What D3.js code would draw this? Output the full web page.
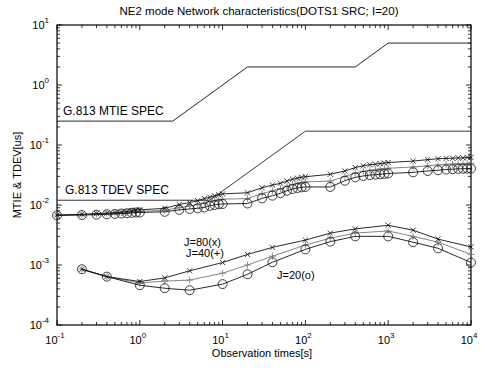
<!DOCTYPE html>
<html>
<head>
<meta charset="utf-8">
<script src="https://cdn.jsdelivr.net/npm/d3@7"></script>
<style>
  body { margin: 0; background: #fff; }
  text { font-family: "Liberation Sans", Arial, Helvetica, sans-serif; fill: #000; }
</style>
</head>
<body>
<svg id="chart" width="485" height="368"></svg>
<script>
// observation times for MTIE curves
var tauMtie = [0.1,0.2,0.3,0.4,0.5,0.6,0.7,0.8,0.9,
  1,2,3,4,5,6,7,8,9,
  10,20,30,40,50,60,70,80,90,
  100,200,300,400,500,600,700,800,900,
  1000,2000,3000,4000,5000,6000,7000,8000,9000,10000];

var mtieJ80 = [0.0068,0.0070,0.0072,0.0073,0.0075,0.0076,0.0078,0.0080,0.0082,
  0.0083,0.0088,0.0102,0.0110,0.0118,0.0128,0.0135,0.0142,0.0148,
  0.0153,0.0160,0.0194,0.0215,0.0230,0.0250,0.0270,0.0280,0.0290,
  0.0296,0.0325,0.0369,0.0420,0.0450,0.0470,0.0480,0.0490,0.0500,
  0.0510,0.0540,0.0570,0.0590,0.0600,0.0600,0.0610,0.0610,0.0620,0.0620];

var mtieJ40 = [0.0068,0.0069,0.0071,0.0072,0.0073,0.0074,0.0075,0.0076,0.0077,
  0.0078,0.0082,0.0090,0.0096,0.0102,0.0108,0.0114,0.0118,0.0122,
  0.0125,0.0128,0.0155,0.0172,0.0188,0.0205,0.0220,0.0230,0.0238,
  0.0243,0.0250,0.0300,0.0340,0.0365,0.0380,0.0390,0.0398,0.0405,
  0.0410,0.0430,0.0450,0.0465,0.0475,0.0480,0.0485,0.0488,0.0490,0.0490];

var mtieJ20 = [0.0067,0.0068,0.0069,0.0070,0.0071,0.0072,0.0073,0.0074,0.0075,
  0.0075,0.0077,0.0083,0.0086,0.0088,0.0091,0.0097,0.0100,0.0103,
  0.0104,0.0106,0.0129,0.0143,0.0157,0.0173,0.0185,0.0192,0.0197,
  0.0200,0.0200,0.0254,0.0289,0.0305,0.0315,0.0320,0.0325,0.0330,
  0.0335,0.0350,0.0369,0.0380,0.0390,0.0395,0.0400,0.0402,0.0404,0.0405];

// observation times for TDEV curves
var tauTdev = [0.2,0.4,1,2,4,10,20,40,100,200,400,1000,2000,4000,10000];
var tdevJ80 = [0.00085,0.00064,0.00053,0.00061,0.00080,0.0011,0.0015,0.00197,0.0026,0.0034,0.0040,0.0046,0.0038,0.0027,0.0020];
var tdevJ40 = [0.00085,0.00064,0.00050,0.00054,0.00056,0.00073,0.0010,0.0014,0.00215,0.0028,0.0034,0.0037,0.0030,0.0024,0.0015];
var tdevJ20 = [0.00085,0.00064,0.00046,0.00041,0.00038,0.00048,0.0007,0.00111,0.00182,0.00245,0.0030,0.0030,0.0024,0.0019,0.0011];

// G.813 spec masks
var mtieSpecTau = [0.1, 2.5, 20, 400, 1000, 10000];
var mtieSpecVal = [0.25, 0.25, 2, 2, 5, 5];
var tdevSpecTau = [0.1, 7, 100, 10000];
var tdevSpecVal = [0.012, 0.012, 0.17, 0.17];

var xTicks = [-1, 0, 1, 2, 3, 4];
var yTicks = [-4, -3, -2, -1, 0, 1];

var svg = d3.select("#chart");
var margin = { top: 25, right: 14, bottom: 43, left: 57 },
  width = +svg.attr("width") - margin.left - margin.right,
  height = +svg.attr("height") - margin.top - margin.bottom;

var x = d3.scaleLog().domain([0.1, 10000]).range([0, width]);
var y = d3.scaleLog().domain([1e-4, 10]).range([height, 0]);

var g = svg.append("g")
  .attr("transform", "translate(" + margin.left + "," + margin.top + ")");

// minor + major tick values (ticks drawn inward on all four sides)
function logTicks(lo, hi) {
  var out = [];
  for (var e = lo; e < hi; e++) {
    for (var m = 1; m < 10; m++) out.push({ v: m * Math.pow(10, e), major: m == 1 });
  }
  out.push({ v: Math.pow(10, hi), major: true });
  return out;
}
var xt = logTicks(-1, 4), yt = logTicks(-4, 1);
var tickG = g.append("g").attr("stroke", "#000").attr("stroke-width", 0.8);
xt.forEach(function (t) {
  var px = x(t.v), len = t.major ? 5 : 3;
  tickG.append("line").attr("x1", px).attr("x2", px).attr("y1", height).attr("y2", height - len);
  tickG.append("line").attr("x1", px).attr("x2", px).attr("y1", 0).attr("y2", len);
});
yt.forEach(function (t) {
  var py = y(t.v), len = t.major ? 5 : 3;
  tickG.append("line").attr("x1", 0).attr("x2", len).attr("y1", py).attr("y2", py);
  tickG.append("line").attr("x1", width).attr("x2", width - len).attr("y1", py).attr("y2", py);
});

g.append("rect")
  .attr("width", width).attr("height", height)
  .attr("fill", "none").attr("stroke", "#000").attr("stroke-width", 1.2);

// tick labels as 10 with superscript exponent
xTicks.forEach(function (e) {
  var t = g.append("text")
    .attr("x", x(Math.pow(10, e)) - 2).attr("y", height + 19)
    .attr("text-anchor", "middle").style("font-size", "11px");
  t.append("tspan").text("10");
  t.append("tspan").attr("dy", -6).style("font-size", "8px").text(e);
});
yTicks.forEach(function (e) {
  var t = g.append("text")
    .attr("x", -8).attr("y", y(Math.pow(10, e)) + 4)
    .attr("text-anchor", "end").style("font-size", "11px");
  t.append("tspan").text("10");
  t.append("tspan").attr("dy", -6).style("font-size", "8px").text(e);
});

// title and axis labels
svg.append("text").attr("x", 259).attr("y", 15).attr("text-anchor", "middle")
  .style("font-size", "11.5px").text("NE2 mode Network characteristics(DOTS1 SRC; I=20)");
svg.append("text").attr("x", 262).attr("y", 357).attr("text-anchor", "middle")
  .style("font-size", "11px").text("Observation times[s]");
svg.append("text").attr("transform", "translate(21,175) rotate(-90)").attr("text-anchor", "middle")
  .style("font-size", "11px").text("MTIE & TDEV[us]");

var line = d3.line()
  .x(function (d) { return x(d[0]); })
  .y(function (d) { return y(d[1]); });

function drawLine(taus, vals, color) {
  g.append("path")
    .datum(d3.zip(taus, vals))
    .attr("d", line)
    .attr("fill", "none").attr("stroke", color).attr("stroke-width", 0.9);
}

function drawMarks(taus, vals, kind, color) {
  var pts = d3.zip(taus, vals);
  var mg = g.append("g").attr("stroke", color).attr("stroke-width", 0.8).attr("fill", "none");
  pts.forEach(function (d) {
    var px = x(d[0]), py = y(d[1]);
    if (kind == "o") {
      mg.append("circle").attr("cx", px).attr("cy", py).attr("r", 4.5);
    } else if (kind == "x") {
      var s = 2.6;
      mg.append("path").attr("d", "M" + (px - s) + "," + (py - s) + "L" + (px + s) + "," + (py + s) +
        "M" + (px - s) + "," + (py + s) + "L" + (px + s) + "," + (py - s));
    } else {
      var s2 = 3.5;
      mg.append("path").attr("d", "M" + (px - s2) + "," + py + "L" + (px + s2) + "," + py +
        "M" + px + "," + (py - s2) + "L" + px + "," + (py + s2));
    }
  });
}

// spec masks
drawLine(mtieSpecTau, mtieSpecVal, "#111");
drawLine(tdevSpecTau, tdevSpecVal, "#222");

// measured curves
drawLine(tauMtie, mtieJ40, "#777");
drawMarks(tauMtie, mtieJ40, "+", "#777");
drawLine(tauMtie, mtieJ80, "#111");
drawMarks(tauMtie, mtieJ80, "x", "#111");
drawLine(tauMtie, mtieJ20, "#111");
drawMarks(tauMtie, mtieJ20, "o", "#111");

drawLine(tauTdev, tdevJ40, "#777");
drawMarks(tauTdev, tdevJ40, "+", "#777");
drawLine(tauTdev, tdevJ80, "#111");
drawMarks(tauTdev, tdevJ80, "x", "#111");
drawLine(tauTdev, tdevJ20, "#111");
drawMarks(tauTdev, tdevJ20, "o", "#111");

// annotations
g.append("text").attr("x", 6).attr("y", 90).style("font-size", "12px").text("G.813 MTIE SPEC");
g.append("text").attr("x", 8).attr("y", 169).style("font-size", "12px").text("G.813 TDEV SPEC");
g.append("text").attr("x", 127).attr("y", 221).style("font-size", "11px").text("J=80(x)");
g.append("text").attr("x", 129).attr("y", 232).style("font-size", "11px").text("J=40(+)");
g.append("text").attr("x", 220).attr("y", 254).style("font-size", "11px").text("J=20(o)");
</script>
</body>
</html>
